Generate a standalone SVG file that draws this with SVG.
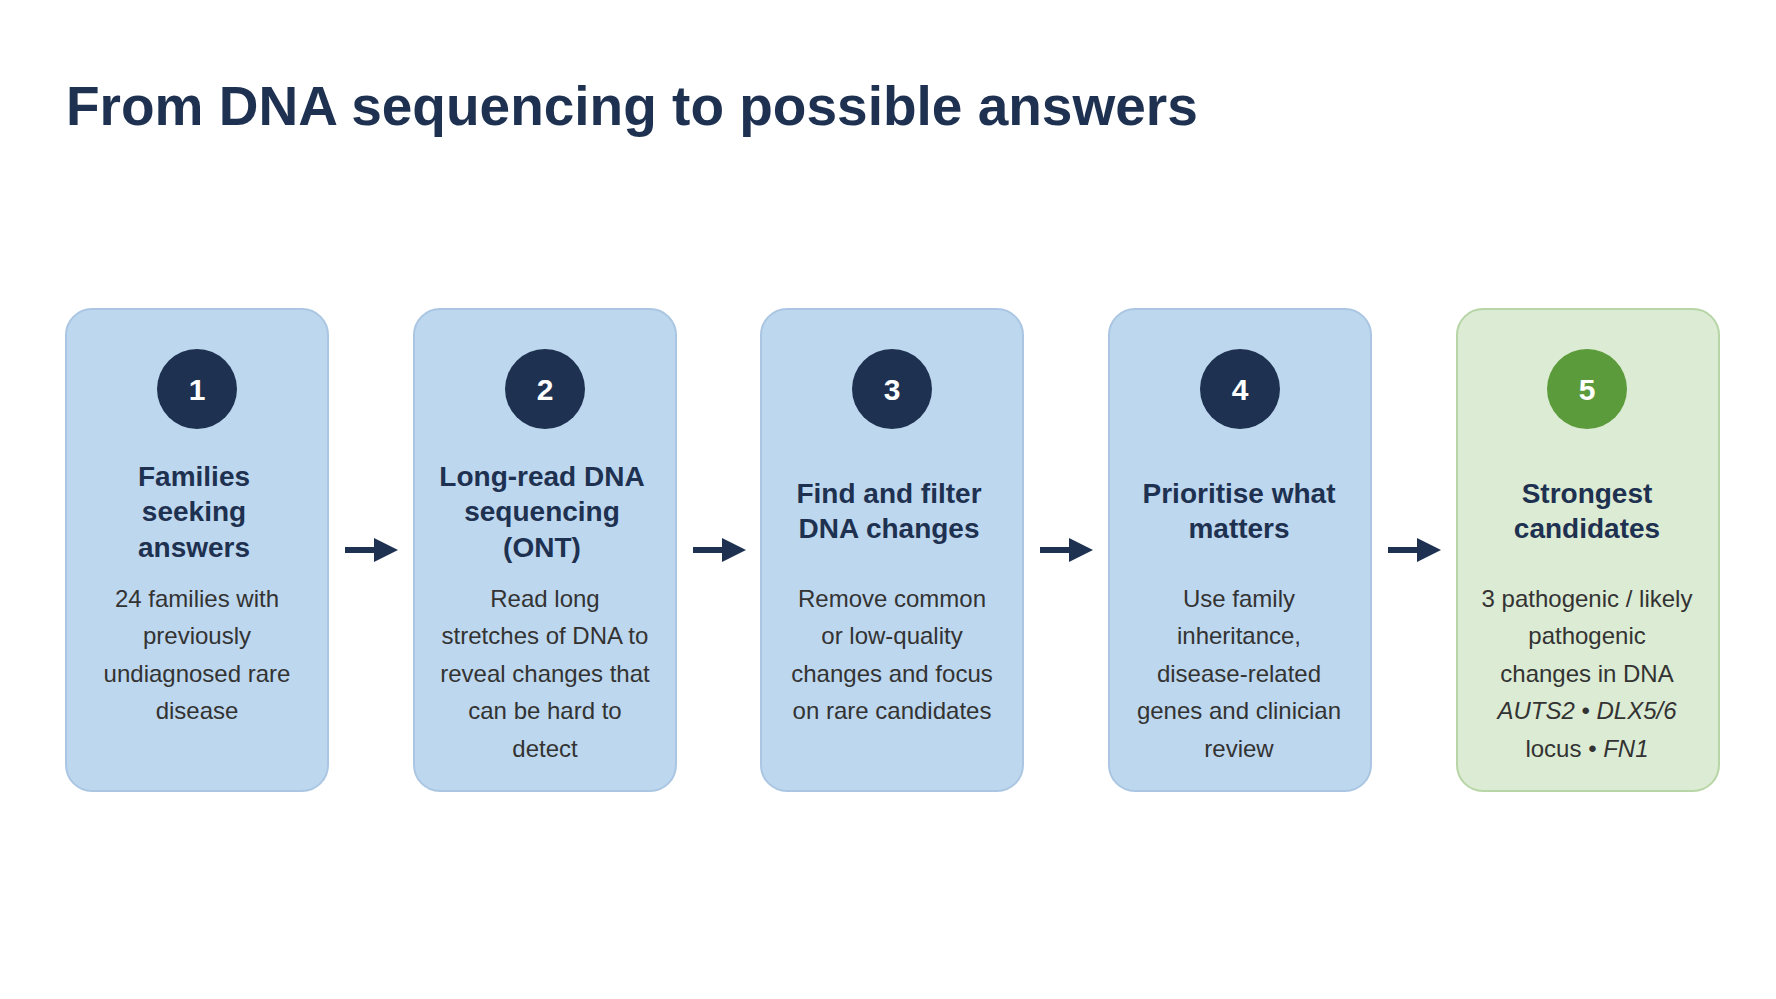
<svg xmlns="http://www.w3.org/2000/svg" width="1776" height="999" viewBox="0 0 1776 999">
<defs>
<style>
.box{fill:#bdd7ee;stroke:#aac6e2;stroke-width:2}
.gbox{fill:#dcebd3;stroke:#b7d5a5;stroke-width:2}
.circ{fill:#1e3150}
.gcirc{fill:#5b9b3b}
.num{font-family:"Liberation Sans",Arial,sans-serif;font-weight:bold;font-size:30px;fill:#fff;text-anchor:middle}
.hd{font-family:"Liberation Sans",Arial,sans-serif;font-weight:bold;font-size:28px;fill:#1e3150;text-anchor:middle}
.bd{font-family:"Liberation Sans",Arial,sans-serif;font-size:24px;fill:#333;text-anchor:middle}
.arr{stroke:#1e3150;stroke-width:6;fill:none}
</style>
<marker id="ah" markerWidth="4" markerHeight="4" refX="2" refY="2" orient="auto" markerUnits="strokeWidth"><path d="M0,0 L4,2 L0,4 z" fill="#1e3150"/></marker>
</defs>
<rect width="1776" height="999" fill="#fff"/>
<text x="66" y="125" font-family="Liberation Sans,Arial,sans-serif" font-weight="bold" font-size="55" fill="#1e3150">From DNA sequencing to possible answers</text>
<g id="connectors">
<line class="arr" x1="345" y1="550" x2="386" y2="550" marker-end="url(#ah)"/>
<line class="arr" x1="693" y1="550" x2="734" y2="550" marker-end="url(#ah)"/>
<line class="arr" x1="1040" y1="550" x2="1081" y2="550" marker-end="url(#ah)"/>
<line class="arr" x1="1388" y1="550" x2="1429" y2="550" marker-end="url(#ah)"/>
</g>
<g id="node1">
<rect class="box" x="66" y="309" width="262" height="482" rx="26"/>
<circle class="circ" cx="197" cy="389" r="40"/><text class="num" x="197" y="400">1</text>
<text class="hd" x="194"><tspan x="194" y="486">Families</tspan><tspan x="194" y="521">seeking</tspan><tspan x="194" y="557">answers</tspan></text>
<text class="bd"><tspan x="197" y="607">24 families with</tspan><tspan x="197" y="644">previously</tspan><tspan x="197" y="682">undiagnosed rare</tspan><tspan x="197" y="719">disease</tspan></text>
</g>
<g id="node2">
<rect class="box" x="414" y="309" width="262" height="482" rx="26"/>
<circle class="circ" cx="545" cy="389" r="40"/><text class="num" x="545" y="400">2</text>
<text class="hd"><tspan x="542" y="486">Long-read DNA</tspan><tspan x="542" y="521">sequencing</tspan><tspan x="542" y="557">(ONT)</tspan></text>
<text class="bd"><tspan x="545" y="607">Read long</tspan><tspan x="545" y="644">stretches of DNA to</tspan><tspan x="545" y="682">reveal changes that</tspan><tspan x="545" y="719">can be hard to</tspan><tspan x="545" y="757">detect</tspan></text>
</g>
<g id="node3">
<rect class="box" x="761" y="309" width="262" height="482" rx="26"/>
<circle class="circ" cx="892" cy="389" r="40"/><text class="num" x="892" y="400">3</text>
<text class="hd"><tspan x="889" y="503">Find and filter</tspan><tspan x="889" y="538">DNA changes</tspan></text>
<text class="bd"><tspan x="892" y="607">Remove common</tspan><tspan x="892" y="644">or low-quality</tspan><tspan x="892" y="682">changes and focus</tspan><tspan x="892" y="719">on rare candidates</tspan></text>
</g>
<g id="node4">
<rect class="box" x="1109" y="309" width="262" height="482" rx="26"/>
<circle class="circ" cx="1240" cy="389" r="40"/><text class="num" x="1240" y="400">4</text>
<text class="hd"><tspan x="1239" y="503">Prioritise what</tspan><tspan x="1239" y="538">matters</tspan></text>
<text class="bd"><tspan x="1239" y="607">Use family</tspan><tspan x="1239" y="644">inheritance,</tspan><tspan x="1239" y="682">disease-related</tspan><tspan x="1239" y="719">genes and clinician</tspan><tspan x="1239" y="757">review</tspan></text>
</g>
<g id="node5">
<rect class="gbox" x="1457" y="309" width="262" height="482" rx="26"/>
<circle class="gcirc" cx="1587" cy="389" r="40"/><text class="num" x="1587" y="400">5</text>
<text class="hd"><tspan x="1587" y="503">Strongest</tspan><tspan x="1587" y="538">candidates</tspan></text>
<text class="bd"><tspan x="1587" y="607">3 pathogenic / likely</tspan><tspan x="1587" y="644">pathogenic</tspan><tspan x="1587" y="682">changes in DNA</tspan><tspan x="1587" y="719"><tspan font-style="italic">AUTS2</tspan> • <tspan font-style="italic">DLX5/6</tspan></tspan><tspan x="1587" y="757">locus • <tspan font-style="italic">FN1</tspan></tspan></text>
</g>
</svg>
